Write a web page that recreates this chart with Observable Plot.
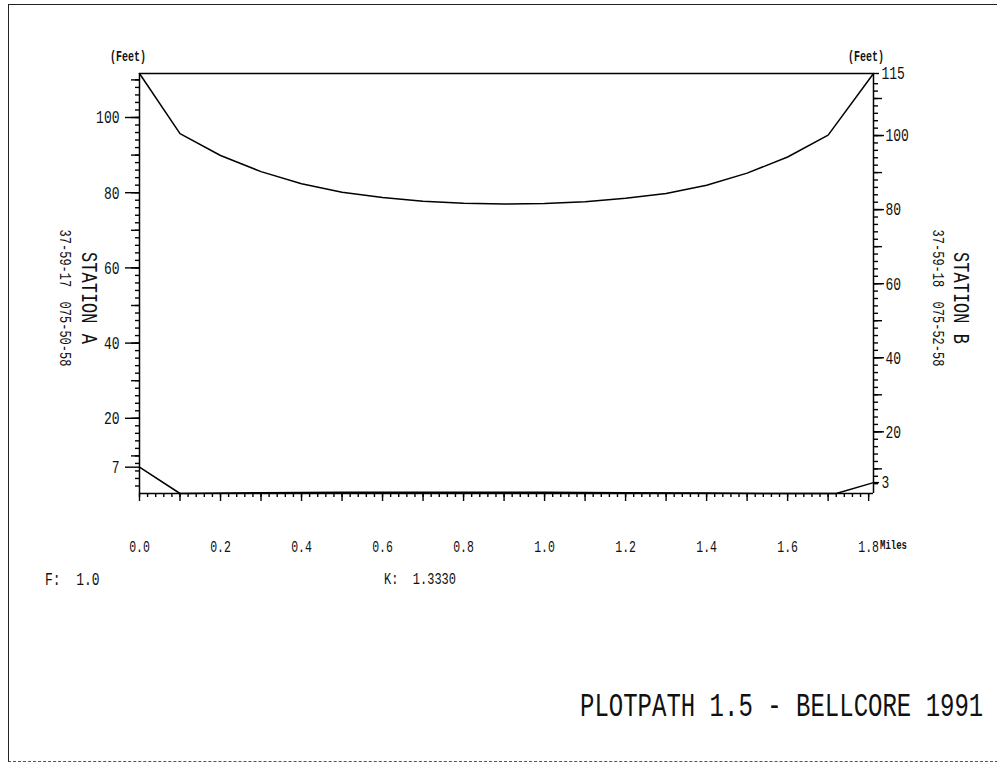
<!DOCTYPE html>
<html><head><meta charset="utf-8">
<script src="https://cdn.jsdelivr.net/npm/d3@7"></script>
<script src="https://cdn.jsdelivr.net/npm/@observablehq/plot@0.6"></script>
<style>
html,body{margin:0;padding:0;background:#fff;}
#page{position:relative;width:997px;height:764px;overflow:hidden;background:#fff;font-family:"Liberation Mono","DejaVu Sans Mono",monospace;color:#111;}
#frame{position:absolute;left:8px;top:4px;width:989px;height:756px;border-top:1px solid #222;border-left:1px solid #222;border-bottom:1px dashed #555;}
#chart{position:absolute;left:0;top:0;}
.t{position:absolute;white-space:pre;line-height:1;transform-origin:50% 50%;}
</style></head>
<body><div id="page"><div id="frame"></div><div id="chart"></div></div>
<script>
// ---- data ----
const pathLengthMiles = 1.812;
const fresnelDist = [0,0.1,0.2,0.3,0.4,0.5,0.6,0.7,0.8,0.9,1.0,1.1,1.2,1.3,1.4,1.5,1.6,1.7,1.812];
const fresnelFeet = [111.7,95.7,89.9,85.6,82.4,80.1,78.7,77.7,77.2,77.0,77.1,77.6,78.5,79.8,82.0,85.2,89.5,95.3,111.7];
const terrainDist = [0,0.1,0.3,0.5,0.8,1.0,1.2,1.4,1.6,1.72,1.812];
const terrainFeet = [7,0,0.2,0.3,0.3,0.3,0.2,0.1,0,0,2.9];
const losDist = [0,1.812];
const losFeet = [111.7,111.7];
const leftTickValues = [100,80,60,40,20,7];
const rightTickValues = [100,80,60,40,20];
const rightEndLabels = ["115","3"];
const xTickValues = [0,0.2,0.4,0.6,0.8,1.0,1.2,1.4,1.6,1.8];
const xTickLabels = ["0.0","0.2","0.4","0.6","0.8","1.0","1.2","1.4","1.6","1.8"];

// right-hand (station B) scale expressed on the left scale
const toLeft = r => 0.985 * r - 3.3;

const leftMinor = d3.range(2, 111, 2);
const leftMedium = d3.range(10, 111, 10);
const rightMinor = d3.range(6, 116, 2).map(toLeft).filter(v => v > 0 && v < 111.7);
const rightMedium = d3.range(10, 116, 10).map(toLeft).filter(v => v > 0 && v < 111.7);
const xMinor = d3.range(0, 1.81, 0.02);
const xMedium = d3.range(0, 1.81, 0.1);

const fresnel = fresnelDist.map((d, i) => ({d, f: fresnelFeet[i]}));
const terrain = terrainDist.map((d, i) => ({d, f: terrainFeet[i]}));
const los = losDist.map((d, i) => ({d, f: losFeet[i]}));

const rightLabelMap = new Map(rightTickValues.map(r => [toLeft(r), String(r)]));
const endVals = [losFeet[1], terrainFeet[terrainFeet.length - 1]];
const endMap = new Map(endVals.map((v, i) => [v, rightEndLabels[i]]));
const xLabelMap = new Map(xTickValues.map((v, i) => [v, xTickLabels[i]]));

const ax = {label: null, stroke: "#000", strokeWidth: 1.4};
const none = () => "";

const chart = Plot.plot({
  width: 997, height: 764,
  marginLeft: 139, marginRight: 124, marginTop: 73, marginBottom: 271,
  x: {domain: [0, pathLengthMiles], label: null},
  y: {domain: [0, losFeet[0]], label: null},
  style: {fontFamily: "Liberation Mono, DejaVu Sans Mono, monospace", fontSize: "13px", color: "#111", background: "transparent", overflow: "visible"},
  marks: [
    Plot.axisY({...ax, ticks: leftMinor, tickSize: 4, tickFormat: none}),
    Plot.axisY({...ax, ticks: leftMedium, tickSize: 8, tickFormat: none}),
    Plot.axisY({...ax, ticks: leftTickValues, tickSize: 14, tickPadding: 6, fontSize: 13}),
    Plot.axisY({...ax, anchor: "right", ticks: rightMinor, tickSize: 4, tickFormat: none}),
    Plot.axisY({...ax, anchor: "right", ticks: rightMedium, tickSize: 8, tickFormat: none}),
    Plot.axisY({...ax, anchor: "right", ticks: [...rightLabelMap.keys()], tickSize: 10, tickPadding: 2, tickFormat: d => rightLabelMap.get(d), fontSize: 13}),
    Plot.axisY({...ax, anchor: "right", ticks: endVals, tickSize: 5, tickPadding: 3, tickFormat: d => endMap.get(d), fontSize: 13}),
    Plot.axisX({...ax, ticks: xMinor, tickSize: 4, tickFormat: none}),
    Plot.axisX({...ax, ticks: xMedium, tickSize: 8, tickFormat: none}),
    Plot.axisX({...ax, ticks: xTickValues, tickSize: 0, tickPadding: 47, tickFormat: d => xLabelMap.get(d), fontSize: 11.5}),
    Plot.ruleX([0, pathLengthMiles], {stroke: "#000", strokeWidth: 1.5}),
    Plot.ruleY([0], {stroke: "#000", strokeWidth: 1.5}),
    Plot.line(los, {x: "d", y: "f", stroke: "#000", strokeWidth: 1.4}),
    Plot.line(fresnel, {x: "d", y: "f", stroke: "#000", strokeWidth: 1.5}),
    Plot.line(terrain, {x: "d", y: "f", stroke: "#000", strokeWidth: 1.5})
  ]
});

// tall, narrow plotter-style lettering
chart.querySelectorAll("text").forEach(t => {
  const tr = t.getAttribute("transform");
  if (tr) t.setAttribute("transform", tr + " scale(1,1.4)");
  else if (t.hasAttribute("x") && t.hasAttribute("y")) {
    const x = t.getAttribute("x"), y = t.getAttribute("y");
    t.removeAttribute("x"); t.removeAttribute("y");
    t.setAttribute("transform", `translate(${x},${y}) scale(1,1.4)`);
  }
});
document.getElementById("chart").appendChild(chart);

// annotations
const page = document.getElementById("page");
function addText(txt, cx, cy, size, opts = {}) {
  const el = document.createElement("div");
  el.className = "t";
  el.textContent = txt;
  el.style.fontSize = size + "px";
  if (opts.weight) el.style.fontWeight = opts.weight;
  const rot = opts.rotate ? ` rotate(${opts.rotate}deg)` : "";
  const sy = opts.sy || 1.4;
  el.style.left = cx + "px"; el.style.top = cy + "px";
  if (opts.leftAnchor) {
    el.style.transformOrigin = "0 50%";
    el.style.transform = `translate(0,-50%)${rot} scale(1,${sy})`;
  } else {
    el.style.transform = `translate(-50%,-50%)${rot} scale(1,${sy})`;
  }
  page.appendChild(el);
}
addText("(Feet)", 128, 58, 10, {weight: "bold"});
addText("(Feet)", 866, 58, 10, {weight: "bold"});
addText("Miles", 880, 547, 9, {leftAnchor: true, weight: "bold"});
addText("F:  1.0", 45, 580, 13, {leftAnchor: true});
addText("K:  1.3330", 384, 580, 12, {leftAnchor: true});
addText("PLOTPATH 1.5 - BELLCORE 1991", 580, 708, 24, {leftAnchor: true});
addText("STATION A", 88, 298, 17, {rotate: 90, sy: 1.3});
addText("37-59-17  075-50-58", 64, 298, 12, {rotate: 90, sy: 1.3});
addText("STATION B", 960, 298, 17, {rotate: 90, sy: 1.3});
addText("37-59-18  075-52-58", 937, 298, 12, {rotate: 90, sy: 1.3});
</script>
</body></html>
